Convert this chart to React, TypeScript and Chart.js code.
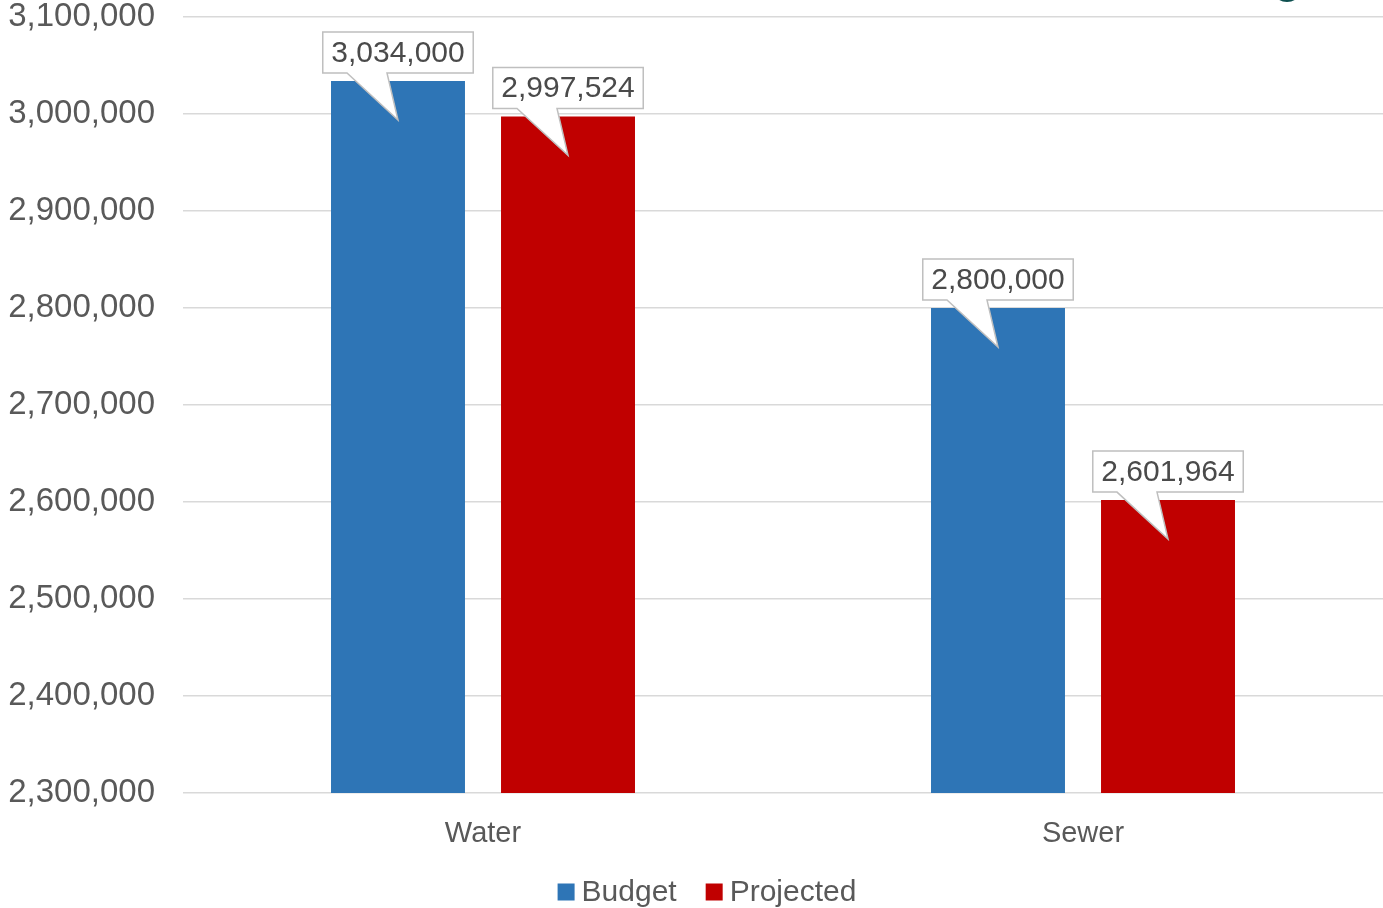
import { useEffect, useRef } from "react";
import { Chart, registerables } from "chart.js";

Chart.register(...registerables);

const categories = ["Water", "Sewer"];
const seriesNames = ["Budget", "Projected"];
const budgetValues = [3034000, 2800000];
const projectedValues = [2997524, 2601964];
const yMin = 2300000;
const yMax = 3100000;
const yStep = 100000;

const FONT = "'Liberation Sans', Arial, sans-serif";
const fmt = (v: number) => Math.round(v).toLocaleString("en-US");

const calloutPlugin = {
  id: "callouts",
  afterDatasetsDraw(chart: any) {
    const ctx = chart.ctx;
    ctx.save();
    ctx.font = `30px ${FONT}`;
    chart.data.datasets.forEach((ds: any, di: number) => {
      const meta = chart.getDatasetMeta(di);
      meta.data.forEach((bar: any, i: number) => {
        const text = fmt(ds.data[i]);
        const tw = ctx.measureText(text).width;
        const w = tw + 17;
        const h = 41;
        const cx = bar.x;
        const top = bar.y;
        const bx = cx - w / 2;
        const by = top - 8 - h;
        const tipY = top + 39;
        ctx.beginPath();
        ctx.moveTo(bx, by);
        ctx.lineTo(bx + w, by);
        ctx.lineTo(bx + w, by + h);
        ctx.lineTo(cx - 11, by + h);
        ctx.lineTo(cx, tipY);
        ctx.lineTo(cx - 51, by + h);
        ctx.lineTo(bx, by + h);
        ctx.closePath();
        ctx.fillStyle = "#ffffff";
        ctx.fill();
        ctx.lineWidth = 1.5;
        ctx.strokeStyle = "#bfbfbf";
        ctx.stroke();
        ctx.fillStyle = "#4a4a4a";
        ctx.textAlign = "center";
        ctx.textBaseline = "middle";
        ctx.fillText(text, cx, by + h / 2 + 1);
      });
    });
    ctx.restore();
  },
  afterDraw(chart: any) {
    const ctx = chart.ctx;
    ctx.save();
    // legend
    ctx.font = `30px ${FONT}`;
    const box = 17;
    const gapText = 7;
    const gapItem = 29;
    const items = chart.data.datasets.map((ds: any) => ({
      label: ds.label,
      color: ds.backgroundColor,
      tw: ctx.measureText(ds.label).width,
    }));
    const total =
      items.reduce((s: number, it: any) => s + box + gapText + it.tw, 0) +
      gapItem * (items.length - 1);
    let x = 707 - total / 2;
    const cy = 892;
    items.forEach((it: any) => {
      ctx.fillStyle = it.color;
      ctx.fillRect(x, cy - box / 2, box, box);
      ctx.fillStyle = "#595959";
      ctx.textAlign = "left";
      ctx.textBaseline = "middle";
      ctx.fillText(it.label, x + box + gapText, cy + 1);
      x += box + gapText + it.tw + gapItem;
    });
    // small fragment at top right
    ctx.beginPath();
    ctx.ellipse(1287, -5, 11, 7, 0, 0, Math.PI * 2);
    ctx.fillStyle = "#0d4f4f";
    ctx.fill();
    ctx.restore();
  },
};

export default function App() {
  const ref = useRef<HTMLCanvasElement>(null);
  useEffect(() => {
    if (!ref.current) return;
    const chart = new Chart(ref.current, {
      type: "bar",
      data: {
        labels: categories,
        datasets: [
          {
            label: seriesNames[0],
            data: budgetValues,
            backgroundColor: "#2E75B6",
            categoryPercentage: 0.5667,
            barPercentage: 0.788,
          },
          {
            label: seriesNames[1],
            data: projectedValues,
            backgroundColor: "#C00000",
            categoryPercentage: 0.5667,
            barPercentage: 0.788,
          },
        ],
      },
      options: {
        animation: false,
        responsive: true,
        maintainAspectRatio: false,
        layout: { padding: 0 },
        plugins: {
          legend: { display: false },
          tooltip: { enabled: false },
        },
        scales: {
          x: {
            grid: { display: false },
            border: { display: false },
            ticks: {
              color: "#595959",
              font: { family: FONT, size: 29, lineHeight: 1.2 },
              padding: 16,
            },
            afterFit(scale: any) {
              scale.height = 115;
              scale.paddingLeft = 0;
              scale.paddingRight = 0;
            },
          },
          y: {
            min: yMin,
            max: yMax,
            grid: {
              color: "#d9d9d9",
              lineWidth: 1.5,
              drawTicks: false,
            },
            border: { display: false },
            ticks: {
              stepSize: yStep,
              color: "#595959",
              font: { family: FONT, size: 33, lineHeight: 1 },
              padding: 28,
              callback: (v: any) => fmt(Number(v)),
            },
            afterFit(scale: any) {
              scale.width = 183;
              scale.paddingTop = 17;
              scale.paddingBottom = 0;
            },
          },
        },
      },
      plugins: [calloutPlugin],
    });
    return () => chart.destroy();
  }, []);
  return (
    <div style={{ position: "fixed", left: 0, top: 0, width: 1383, height: 908, background: "#fff" }}>
      <canvas ref={ref} style={{ display: "block" }} />
    </div>
  );
}
